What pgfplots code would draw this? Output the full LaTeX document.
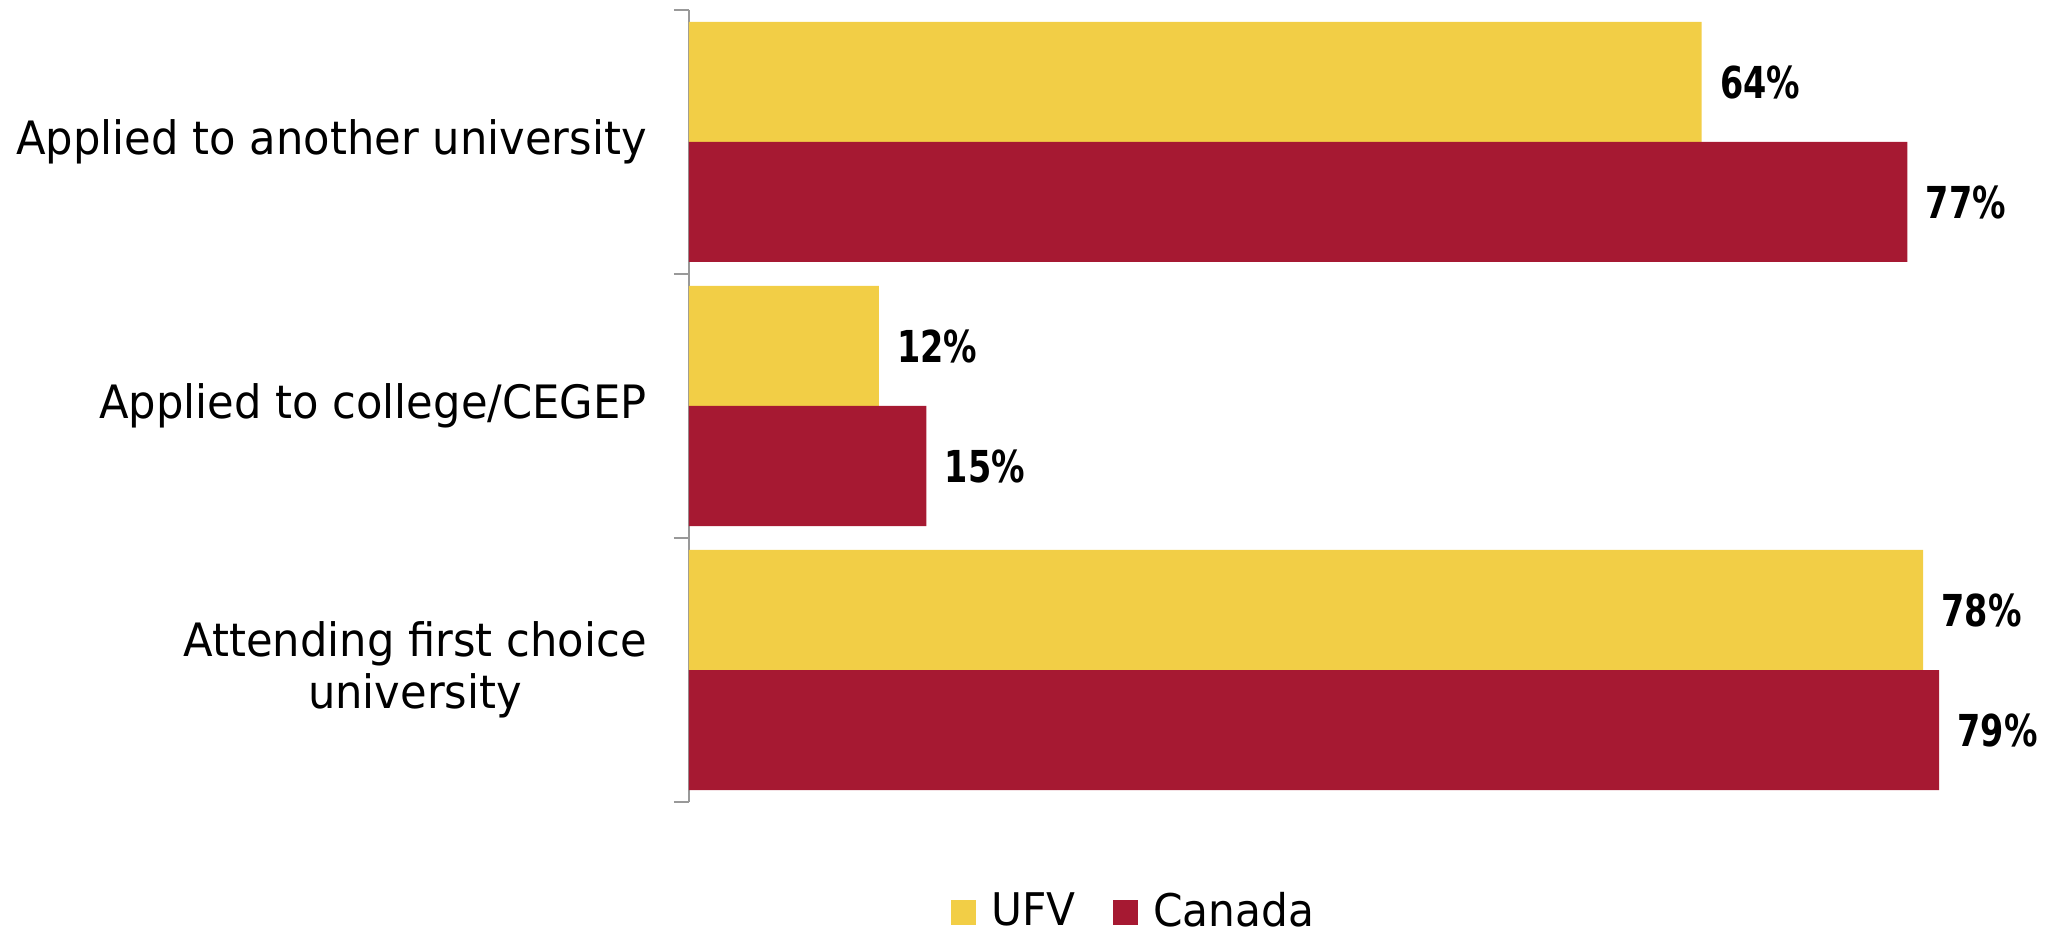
\documentclass[border=0pt]{standalone}
\usepackage{fontspec}
\setmainfont{DejaVu Sans}[FakeStretch=0.94]
\newfontfamily\valfont{DejaVu Sans}[FakeStretch=0.76]
\usepackage{pgfplots}
\pgfplotsset{compat=1.18}
\definecolor{ufvyellow}{RGB}{242,206,70}
\definecolor{canred}{RGB}{166,25,50}

\begin{document}
\fontsize{23}{26}\selectfont
\begin{tikzpicture}
\useasboundingbox (-344.5pt,-67.5pt) rectangle (681pt,401pt);
\begin{axis}[
    at={(0pt,0pt)}, anchor=south west,
    scale only axis, width=672.5pt, height=396pt,
    xbar, bar width=60pt,
    xmin=0, xmax=85, ymin=-0.5, ymax=2.5,
    hide x axis,
    axis y line*=left,
    y axis line style={draw=gray!80, line width=1pt},
    ytick={0,1,2},
    yticklabels={{Attending first choice\\university},{Applied to college/CEGEP},{Applied to another university}},
    yticklabel style={align=center, inner sep=0pt, font=\fontsize{23}{26}\selectfont},
    yticklabel shift=21pt,
    major tick length=0pt,
    minor ytick={-0.5,0.5,1.5,2.5},
    minor tick length=7.5pt,
    tick align=outside,
    minor tick style={draw=gray!80, line width=1pt},
    point meta=x,
    /pgf/number format/assume math mode=true,
    nodes near coords={\pgfmathprintnumber{\pgfplotspointmeta}\%},
    nodes near coords style={anchor=west, inner sep=0pt, xshift=9pt, text=black,
        font=\valfont\bfseries\fontsize{22}{26}\selectfont},
    legend style={at={(0.33,-0.14)}, anchor=center, draw=none, fill=none,
        legend columns=2, font=\fontsize{22.5}{26}\selectfont,
        nodes={inner sep=0pt},
        /tikz/every odd column/.style={column sep=7.5pt},
        /tikz/every even column/.style={column sep=19pt}},
    legend image code/.code={\fill[#1] (0pt,-6.25pt) rectangle (12.5pt,6.25pt);},
]
\addplot[fill=ufvyellow, draw=none, bar shift=30pt] coordinates {(78,0) (12,1) (64,2)};
\addlegendentry{UFV}
\addplot[fill=canred, draw=none, bar shift=-30pt] coordinates {(79,0) (15,1) (77,2)};
\addlegendentry{Canada}
\end{axis}
\end{tikzpicture}
\end{document}
